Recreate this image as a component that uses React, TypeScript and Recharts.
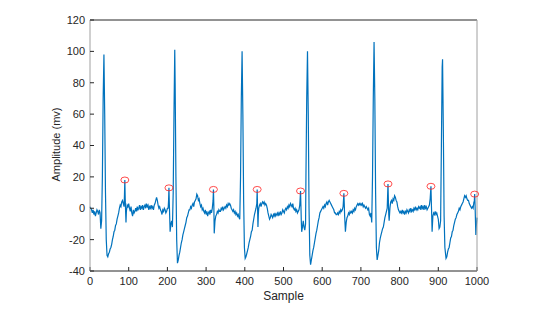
import React from 'react';
import { ComposedChart, Line, Scatter, XAxis, YAxis, Label } from 'recharts';

// ECG-like signal: [sample, amplitude]
const samples: number[] = [
  0, 2, 4, 6, 8, 10, 12, 14, 16, 18, 20, 22, 24, 26, 28, 30, 32, 34, 36, 38,
  40, 42, 44, 46, 48, 50, 52, 54, 56, 58, 60, 62, 64, 66, 68, 70, 72, 74, 76, 78,
  80, 82, 84, 86, 88, 89, 90, 91, 92, 93, 94, 96, 98, 100, 102, 104, 106, 108, 110, 112,
  114, 116, 118, 120, 122, 124, 126, 128, 130, 132, 134, 136, 138, 140, 142, 144, 146, 148, 150, 152,
  154, 156, 158, 160, 162, 164, 166, 168, 170, 172, 174, 176, 178, 180, 182, 184, 186, 188, 190, 192,
  194, 196, 198, 200, 202, 203, 204, 205, 206, 207, 209, 211, 213, 215, 217, 219, 220, 222, 224, 226,
  228, 230, 232, 234, 236, 238, 240, 242, 244, 246, 248, 250, 252, 254, 256, 258, 260, 262, 264, 266,
  268, 270, 272, 274, 276, 278, 280, 282, 284, 286, 288, 290, 292, 294, 296, 298, 300, 302, 304, 306,
  308, 310, 312, 314, 316, 318, 319, 320, 321, 323, 325, 327, 329, 331, 333, 335, 337, 339, 341, 343,
  345, 347, 349, 351, 353, 355, 357, 359, 361, 363, 365, 367, 369, 371, 373, 375, 377, 379, 381, 383,
  385, 387, 389, 391, 393, 395, 397, 399, 401, 403, 405, 407, 409, 411, 413, 415, 417, 419, 421, 423,
  425, 427, 429, 431, 432, 433, 434, 435, 436, 438, 440, 442, 444, 446, 448, 450, 452, 454, 456, 458,
  460, 462, 464, 466, 468, 470, 472, 474, 476, 478, 480, 482, 484, 486, 488, 490, 492, 494, 496, 498,
  500, 502, 504, 506, 508, 510, 512, 514, 516, 518, 520, 522, 524, 526, 528, 530, 532, 534, 536, 538,
  540, 542, 543, 544, 545, 546, 547, 549, 551, 553, 555, 557, 558, 560, 562, 564, 566, 568, 570, 572,
  574, 576, 578, 580, 582, 584, 586, 588, 590, 592, 594, 596, 598, 600, 602, 604, 606, 608, 610, 612,
  614, 616, 618, 620, 622, 624, 626, 628, 630, 632, 634, 636, 638, 640, 642, 644, 646, 648, 650, 652,
  654, 655, 656, 657, 658, 660, 662, 664, 666, 668, 670, 672, 674, 676, 678, 680, 682, 684, 686, 688,
  690, 692, 694, 696, 698, 700, 702, 704, 706, 708, 710, 712, 714, 716, 718, 720, 722, 724, 726, 728,
  730, 732, 734, 736, 738, 740, 742, 744, 746, 748, 750, 752, 754, 756, 758, 760, 762, 764, 766, 768,
  769, 770, 771, 772, 773, 775, 777, 779, 781, 783, 785, 787, 789, 791, 793, 795, 797, 799, 801, 803,
  805, 807, 809, 811, 813, 815, 817, 819, 821, 823, 825, 827, 829, 831, 833, 835, 837, 839, 841, 843,
  845, 847, 849, 851, 853, 855, 857, 859, 861, 863, 865, 867, 869, 871, 873, 875, 877, 879, 881, 882,
  883, 884, 886, 888, 890, 892, 894, 896, 898, 900, 902, 904, 906, 908, 910, 911, 913, 915, 917, 920,
  922, 924, 926, 928, 930, 932, 934, 936, 938, 940, 942, 944, 946, 948, 950, 952, 954, 956, 958, 960,
  962, 964, 966, 968, 970, 972, 974, 976, 978, 980, 982, 984, 986, 988, 990, 992, 993, 994, 995, 997,
  998, 1000,
];

const amplitudes: number[] = [
  1, 0, -1, -3, -1, -4, -2, -5, -3, -1, -2, -4, -1, -3, -13, -8, 20, 70, 98, 60,
  10, -20, -30, -31, -29, -28, -26, -25, -23, -20, -18, -15, -14, -11, -10, -7, -5, -3, 0, 2,
  1, 4, 5, 3, 1, 8, 18, 6, -2, -9, -2, 2, 1, 3, 0, -2, 1, -3, -5, -1,
  -3, -2, 0, -2, 1, -1, 0, 2, -1, 1, 0, 2, -1, 1, 2, 0, 3, 1, 2, -1,
  1, 0, 2, 0, 1, -1, 2, 3, 5, 7, 5, 2, 0, 1, -1, -2, -4, -1, -2, 0,
  -1, -3, -2, 0, 0, 5, 13, 3, -6, -15, -10, -8, -12, 10, 60, 101, 80, 20, -20, -35,
  -33, -30, -28, -25, -22, -20, -17, -15, -13, -11, -9, -6, -5, -3, -1, -1, 1, 0, 2, 3,
  1, 4, 5, 6, 9, 8, 5, 6, 3, 1, 2, -1, 0, -2, -3, -1, -4, -2, -5, -3,
  -2, -4, -1, -3, 0, 5, 12, 2, -16, -8, -5, -4, -2, -3, -1, -2, -2, 0, -1, 1,
  -1, 0, 1, 0, 2, 1, 3, 2, 3, 2, 0, -1, -2, -1, -3, -2, -4, -3, -5, -4,
  -6, -7, 20, 70, 100, 60, 5, -25, -32, -31, -29, -27, -25, -22, -20, -18, -15, -14, -10, -7,
  -4, -2, 0, 3, 12, 0, -12, -4, 0, 2, 3, 1, 3, 4, 3, 4, 2, 3, 2, 0,
  -3, -5, -7, -6, -4, -5, -6, -4, -5, -3, -5, -4, -3, -5, -3, -4, -2, -4, -3, -1,
  -2, -3, -1, 0, -1, 1, 0, 2, 1, 3, 2, 1, 3, 0, -1, 0, -2, -1, -3, -2,
  -1, 2, 6, 11, 2, -8, -15, -12, -8, -12, -14, -10, 20, 70, 100, 60, 0, -30, -36, -33,
  -30, -27, -25, -22, -19, -16, -14, -11, -8, -6, -3, -2, -1, 0, 1, 0, 2, 1, 3, 4,
  2, 4, 5, 4, 3, 2, 1, 0, -1, -3, -3, -4, -4, -3, -4, -2, -3, -1, -2, -1,
  1, 5, 9.5, 3, -5, -15, -9, -6, -5, -3, -4, -2, -3, -2, -3, -1, -2, 0, -1, 1,
  2, 3, 2, 3, 2, 3, 2, 3, 1, 2, 1, 0, 1, 0, -1, 0, -4, -5, -3, -9,
  20, 70, 106, 70, 10, -25, -33, -30, -27, -22, -19, -17, -15, -13, -12, -9, -6, -4, -2, 0,
  8, 15.5, 5, -4, -8, 0, 4, 5, 3, 6, 5, 8, 7, 5, 4, 1, -1, -2, -3, -2,
  -3, -1, -3, -2, -4, -2, -3, -1, -2, -3, -1, -2, 0, -2, -1, -2, 0, -1, 1, -1,
  0, -1, 1, 0, 1, -1, 2, 0, 1, -1, 2, 0, 1, -1, 0, 1, 2, 6, 14, 4,
  -5, -15, -5, -3, -4, -2, -4, -3, -5, -7, -13, -12, -8, 40, 90, 95, 50, -5, -25, -32,
  -31, -28, -26, -25, -22, -19, -18, -15, -14, -11, -9, -7, -6, -4, -3, -2, 0, -1, 1, 2,
  3, 4, 6, 8, 7, 8, 6, 5, 5, 3, 2, 1, 0, 1, 0, 4, 4, 9, 2, -17,
  -12, -6,
];

// Marked peaks (red circles)
const peakSamples: number[] = [90, 204, 319, 432, 544, 656, 770, 881, 994];
const peakValues: number[] = [18, 13, 12, 12, 11, 9.5, 15.5, 14, 9];

const xTicks: number[] = [0, 100, 200, 300, 400, 500, 600, 700, 800, 900, 1000];
const yTicks: number[] = [-40, -20, 0, 20, 40, 60, 80, 100, 120];

const signal = samples.map((s, i) => ({ x: s, y: amplitudes[i] }));
const peaks = peakSamples.map((s, i) => ({ x: s, y: peakValues[i] }));

const FONT = '"Liberation Sans", Arial, Helvetica, sans-serif';
const tickStyle = { fontSize: 11, fill: '#262626', fontFamily: FONT };

const Ring = (props: any) => {
  const { cx, cy } = props;
  if (cx == null || cy == null) return null;
  return <ellipse cx={cx} cy={cy} rx={4} ry={3} fill="none" stroke="#ff2020" strokeWidth={0.8} />;
};

const YLabel = (props: any) => {
  const vb = props.viewBox || {};
  const cx = (vb.x ?? 0) + 59.5;
  const cy = (vb.y ?? 0) + (vb.height ?? 0) / 2 - 1;
  return (
    <text
      x={cx}
      y={cy}
      transform={`rotate(-90, ${cx}, ${cy})`}
      textAnchor="middle"
      fontSize={11}
      fill="#262626"
      fontFamily={FONT}
    >
      Amplitude (mv)
    </text>
  );
};

export default function App() {
  return (
    <div style={{ position: 'absolute', left: 0, top: 0, width: 548, height: 312, background: '#fff' }}>
      <ComposedChart
        width={548}
        height={312}
        data={signal}
        margin={{ top: 19, right: 70, bottom: 0, left: 0 }}
      >
        <XAxis
          dataKey="x"
          type="number"
          domain={[0, 1000]}
          ticks={xTicks}
          interval={0}
          height={41}
          tickSize={-4}
          tickMargin={10}
          tick={tickStyle}
          axisLine={{ stroke: '#262626', strokeWidth: 1 }}
          tickLine={{ stroke: '#262626' }}
        >
          <Label
            value="Sample"
            position="insideBottom"
            offset={12}
            style={{ fontSize: 12, fill: '#262626', fontFamily: FONT }}
          />
        </XAxis>
        <XAxis
          xAxisId="top"
          dataKey="x"
          orientation="top"
          type="number"
          domain={[0, 1000]}
          allowDataOverflow
          ticks={xTicks}
          interval={0}
          height={1}
          tickSize={-4}
          tick={false}
          axisLine={{ stroke: '#262626', strokeWidth: 1 }}
          tickLine={{ stroke: '#262626' }}
        />
        <YAxis
          type="number"
          domain={[-40, 120]}
          ticks={yTicks}
          interval={0}
          width={90}
          tickSize={-4}
          tickMargin={9}
          tick={tickStyle}
          axisLine={{ stroke: '#a0a0a0', strokeWidth: 1 }}
          tickLine={{ stroke: '#262626' }}
        >
          <Label content={<YLabel />} />
        </YAxis>
        <YAxis
          yAxisId="right"
          orientation="right"
          type="number"
          domain={[-40, 120]}
          allowDataOverflow
          ticks={yTicks}
          interval={0}
          width={1}
          tickSize={-4}
          tick={false}
          axisLine={{ stroke: '#a0a0a0', strokeWidth: 1 }}
          tickLine={{ stroke: '#262626' }}
        />
        <Line
          xAxisId="top"
          yAxisId="right"
          dataKey="y"
          type="linear"
          stroke="none"
          dot={false}
          activeDot={false}
          legendType="none"
          isAnimationActive={false}
        />
        <Line
          dataKey="y"
          type="linear"
          stroke="#0072BD"
          strokeWidth={1.2}
          dot={false}
          activeDot={false}
          isAnimationActive={false}
        />
        <Scatter data={peaks} dataKey="y" shape={<Ring />} isAnimationActive={false} />
      </ComposedChart>
    </div>
  );
}
